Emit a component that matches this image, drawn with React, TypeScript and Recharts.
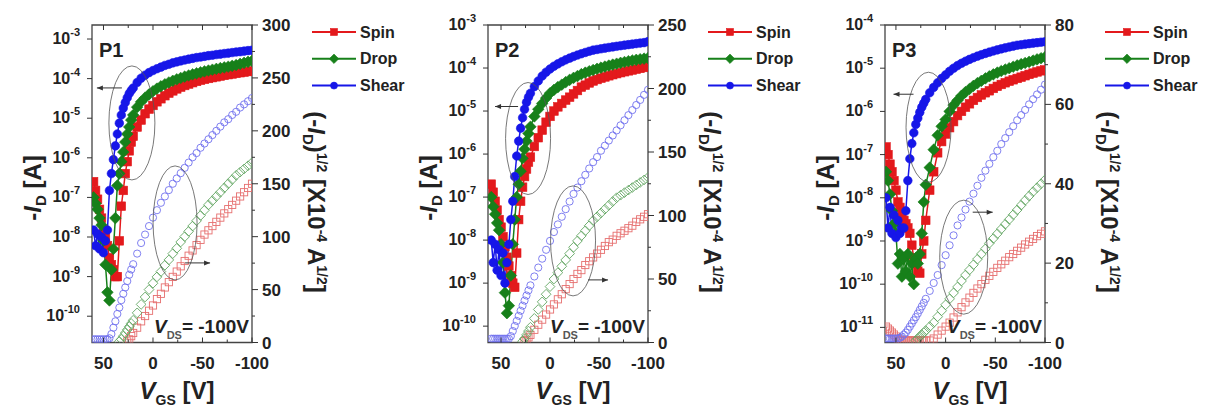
import React from "react";
import { ComposedChart, Line, XAxis, YAxis, ReferenceArea, ReferenceDot } from "recharts";

const _ = null;

// gate voltage sweep, V
const VGS = [
  60, 58, 56, 54, 52, 50, 48, 46, 44, 42, 40, 38, 36, 34, 32, 30, 28, 26, 24, 22, 20,
  16, 12, 8, 4, 0, -4, -8, -12, -16, -20, -24, -28, -32, -36, -40, -44, -48, -52, -56, -60,
  -64, -68, -72, -76, -80, -84, -88, -92, -96, -100,
];

// ---- P1 : -ID (A)
const P1_SPIN_ID = [
  2.5e-7, 1.5e-7, 9e-8, 5e-8, 3e-8, 1.5e-8, 1e-8, 6e-9, 3e-9, 2e-9, 1.5e-9, 1e-9, 1e-9, 8e-9, 6e-8, 1.5e-7, 4e-7, 8e-7, 1.5e-6, 2.5e-6, 3.5e-6,
  6e-6, 9e-6, 1.3e-5, 1.7e-5, 2.1e-5, 2.6e-5, 3.1e-5, 3.7e-5, 4.3e-5, 4.9e-5, 5.5e-5, 6.1e-5, 6.7e-5, 7.3e-5, 7.9e-5,
  8.5e-5, 9.1e-5, 9.6e-5, 1.01e-4, 1.06e-4, 1.11e-4, 1.16e-4, 1.21e-4, 1.26e-4, 1.31e-4, 1.36e-4, 1.41e-4, 1.46e-4, 1.51e-4, 1.56e-4,
];
const P1_DROP_ID = [
  1e-7, 7e-8, 5e-8, 3e-8, 2e-8, 8e-9, 2e-9, 4e-10, 2.5e-10, 1.5e-9, 5e-9, 3e-8, 2e-7, 4e-7, 8e-7, 1.4e-6, 2.5e-6, 4e-6, 6e-6, 9e-6, 1.2e-5,
  1.9e-5, 2.6e-5, 3.3e-5, 4e-5, 4.8e-5, 5.6e-5, 6.4e-5, 7.2e-5, 8e-5, 8.8e-5, 9.6e-5, 1.04e-4, 1.12e-4, 1.2e-4, 1.28e-4,
  1.36e-4, 1.44e-4, 1.52e-4, 1.6e-4, 1.68e-4, 1.76e-4, 1.84e-4, 1.92e-4, 2e-4, 2.1e-4, 2.2e-4, 2.35e-4, 2.5e-4, 2.65e-4, 2.8e-4,
];
const P1_SHEAR_ID = [
  1.5e-8, 6e-9, 1.2e-8, 5e-9, 1e-8, 4e-9, 8e-9, 1.5e-8, 1.5e-7, 4e-7, 9e-7, 2e-6, 4e-6, 7.5e-6, 1.2e-5, 1.8e-5, 2.5e-5, 3.3e-5, 4.2e-5, 5e-5, 5.8e-5,
  8e-5, 1.02e-4, 1.22e-4, 1.42e-4, 1.6e-4, 1.78e-4, 1.95e-4, 2.15e-4, 2.3e-4, 2.5e-4, 2.65e-4, 2.8e-4, 2.95e-4, 3.1e-4, 3.25e-4,
  3.4e-4, 3.5e-4, 3.65e-4, 3.8e-4, 3.9e-4, 4.05e-4, 4.15e-4, 4.3e-4, 4.4e-4, 4.55e-4, 4.7e-4, 4.8e-4, 4.95e-4, 5.1e-4, 5.2e-4,
];
// ---- P1 : (-ID)^1/2 (x1e-4 A^1/2)
const P1_SPIN_SQ = [
  _, _, _, _, _, _, _, _, _, _, _, _, _, _, _, _, _, 1, 3, 6, 9,
  14, 20, 25, 30, 35, 41, 46, 52, 57, 62, 67, 72, 77, 82, 87,
  92, 97, 102, 106, 110, 114, 118, 122, 126, 130, 134, 138, 142, 146, 150,
];
const P1_DROP_SQ = [
  _, _, _, _, _, _, _, _, _, _, _, _, _, 1, 3, 6, 9, 12, 15, 18, 21,
  28, 36, 43, 50, 56, 62, 67, 73, 78, 84, 89, 95, 100, 105, 110,
  115, 120, 125, 130, 134, 138, 142, 146, 150, 154, 158, 161, 164, 167, 170,
];
const P1_SHEAR_SQ = [
  3, 3, 3, 3, 3, 3, 3, 3, 4, 8, 14, 20, 27, 33, 40, 46, 52, 58, 64, 69, 74,
  84, 94, 102, 110, 118, 125, 132, 138, 144, 150, 155, 160, 165, 170, 175,
  179, 184, 188, 192, 196, 200, 204, 208, 211, 215, 218, 222, 225, 228, 231,
];

// ---- P2 : -ID (A)
const P2_SPIN_ID = [
  2e-7, 1.3e-7, 8e-8, 5e-8, 3e-8, 2e-8, 1.2e-8, 7e-9, 4e-9, 2.5e-9, 1.5e-9, 1e-9, 8e-10, 5e-9, 3e-8, 8e-8, 1.7e-7, 3e-7, 4.5e-7, 6.5e-7, 8.5e-7,
  1.5e-6, 2.4e-6, 3.6e-6, 5.5e-6, 7.5e-6, 1e-5, 1.25e-5, 1.5e-5, 1.8e-5, 2.1e-5, 2.5e-5, 3e-5, 3.6e-5, 4e-5, 4.5e-5,
  5e-5, 5.4e-5, 5.8e-5, 6.2e-5, 6.6e-5, 7e-5, 7.4e-5, 7.8e-5, 8.2e-5, 8.6e-5, 9e-5, 9.4e-5, 9.8e-5, 1.03e-4, 1.07e-4,
];
const P2_DROP_ID = [
  1e-7, 6e-8, 4e-8, 2.5e-8, 1.7e-8, 8e-9, 3e-9, 6e-10, 2e-10, 3e-10, 1.5e-9, 8e-9, 3e-8, 1e-7, 2e-7, 4e-7, 8e-7, 1.3e-6, 2e-6, 3e-6, 4.3e-6,
  7.5e-6, 1.1e-5, 1.5e-5, 2e-5, 2.6e-5, 3.1e-5, 3.6e-5, 4.1e-5, 4.7e-5, 5.3e-5, 5.9e-5, 6.5e-5, 7.2e-5, 7.8e-5, 8.4e-5,
  9e-5, 9.6e-5, 1.02e-4, 1.08e-4, 1.14e-4, 1.2e-4, 1.26e-4, 1.32e-4, 1.38e-4, 1.44e-4, 1.5e-4, 1.55e-4, 1.6e-4, 1.65e-4, 1.7e-4,
];
const P2_SHEAR_ID = [
  1e-8, 3e-9, 8e-9, 2e-9, 6e-9, 1.5e-9, 5e-9, 1e-9, 3e-9, 8e-9, 3e-8, 8e-8, 3e-7, 9e-7, 2e-6, 4e-6, 7e-6, 1.1e-5, 1.6e-5, 2.1e-5, 2.6e-5,
  3.7e-5, 5e-5, 6.5e-5, 8e-5, 9.5e-5, 1.1e-4, 1.25e-4, 1.4e-4, 1.55e-4, 1.7e-4, 1.85e-4, 2e-4, 2.15e-4, 2.3e-4, 2.45e-4,
  2.6e-4, 2.7e-4, 2.8e-4, 2.9e-4, 3e-4, 3.1e-4, 3.2e-4, 3.3e-4, 3.4e-4, 3.5e-4, 3.6e-4, 3.7e-4, 3.8e-4, 3.9e-4, 4.1e-4,
];
// ---- P2 : (-ID)^1/2
const P2_SPIN_SQ = [
  _, _, _, _, _, _, _, _, _, _, _, _, _, _, _, _, _, 1, 2, 4, 6,
  10, 14, 18, 22, 26, 30, 34, 38, 42, 46, 50, 54, 57, 61, 64,
  67, 70, 73, 76, 79, 81, 84, 86, 88, 90, 92, 95, 97, 99, 101,
];
const P2_DROP_SQ = [
  _, _, _, _, _, _, _, _, _, _, _, _, _, _, _, _, 1, 3, 6, 9, 12,
  19, 26, 32, 38, 44, 50, 55, 60, 65, 70, 75, 80, 84, 88, 92,
  96, 99, 102, 105, 108, 111, 114, 116, 118, 120, 122, 124, 126, 128, 130,
];
const P2_SHEAR_SQ = [
  3, 3, 3, 3, 3, 3, 3, 3, 3, 3, 5, 9, 13, 17, 21, 25, 29, 33, 37, 41, 45,
  52, 59, 66, 73, 80, 87, 93, 99, 105, 111, 117, 122, 127, 132, 137,
  142, 146, 151, 155, 159, 163, 167, 171, 175, 179, 183, 187, 191, 195, 199,
];

// ---- P3 : -ID (A)
const P3_SPIN_ID = [
  1.5e-7, 1e-7, 6e-8, 4e-8, 2.5e-8, 1.5e-8, 8e-9, 6e-9, 4e-9, 3e-9, 2.5e-9, 2e-9, 1.5e-9, 8e-10, 4e-10, 3e-10, 2e-10, 1.8e-10, 5e-10, 1e-9, 3e-9,
  1.5e-8, 4e-8, 1.1e-7, 2e-7, 3e-7, 4.2e-7, 5.8e-7, 8e-7, 1e-6, 1.25e-6, 1.5e-6, 1.8e-6, 2.1e-6, 2.4e-6, 2.7e-6,
  3e-6, 3.4e-6, 3.8e-6, 4.2e-6, 4.6e-6, 5e-6, 5.4e-6, 5.8e-6, 6.2e-6, 6.7e-6, 7.2e-6, 7.7e-6, 8.2e-6, 8.7e-6, 9.1e-6,
];
const P3_DROP_ID = [
  4e-8, 2.5e-8, 1.2e-8, 5e-9, 2.5e-9, 1.5e-9, 3e-10, 5e-10, 1.5e-10, 4e-10, 2e-10, 5e-10, 1.5e-10, 3e-10, 1e-10, 4e-10, 3e-10, 5e-10, 1.5e-9, 8e-9, 2e-8,
  5e-8, 1.3e-7, 2.8e-7, 4.5e-7, 6.5e-7, 1e-6, 1.4e-6, 1.8e-6, 2.3e-6, 2.8e-6, 3.3e-6, 3.9e-6, 4.5e-6, 5.1e-6, 5.8e-6,
  6.5e-6, 7.2e-6, 7.9e-6, 8.6e-6, 9.3e-6, 1e-5, 1.08e-5, 1.16e-5, 1.24e-5, 1.32e-5, 1.4e-5, 1.5e-5, 1.6e-5, 1.7e-5, 1.8e-5,
];
const P3_SHEAR_ID = [
  1e-8, 2e-9, 6e-9, 1.5e-9, 4e-9, 1.2e-9, 3e-9, 1.5e-9, 2e-9, 2e-9, 5e-9, 2.5e-8, 8e-8, 1.8e-7, 3.2e-7, 5e-7, 7e-7, 9.5e-7, 1.25e-6, 1.55e-6, 1.9e-6,
  2.7e-6, 3.6e-6, 4.6e-6, 5.8e-6, 7e-6, 8.5e-6, 1e-5, 1.15e-5, 1.3e-5, 1.45e-5, 1.6e-5, 1.75e-5, 1.9e-5, 2.05e-5, 2.2e-5,
  2.35e-5, 2.5e-5, 2.65e-5, 2.8e-5, 2.95e-5, 3.1e-5, 3.25e-5, 3.4e-5, 3.5e-5, 3.6e-5, 3.7e-5, 3.8e-5, 3.9e-5, 4e-5, 4.1e-5,
];
// ---- P3 : (-ID)^1/2
const P3_SPIN_SQ = [
  4, 3.5, 3, 2.5, 2, 1.5, 1, 0.5, 0.5, 0.5, 0.5, 0.5, 0.5, 0.5, 0.5, 0.5, 0.5, 0.5, 0.5, 0.5, 0.5,
  0.5, 1, 2, 3, 4, 5, 6.3, 7.6, 8.9, 10.1, 11.3, 12.5, 13.6, 14.7, 15.8,
  16.8, 17.8, 18.8, 19.7, 20.6, 21.5, 22.3, 23.1, 23.9, 24.7, 25.4, 26.1, 26.8, 27.4, 28,
];
const P3_DROP_SQ = [
  _, _, _, _, _, _, _, _, _, _, _, _, _, _, _, 0.5, 1, 1.5, 2, 2.5, 3,
  4, 5, 6.5, 8, 9.5, 11, 12.5, 14, 15.5, 17, 18.3, 19.6, 21, 22.3, 23.6,
  25, 26.2, 27.4, 28.6, 29.8, 31, 32.2, 33.4, 34.6, 35.8, 36.9, 38, 39, 40, 41,
];
const P3_SHEAR_SQ = [
  1, 1, 1, 1, 1, 1, 1, 1.2, 1.5, 2, 2.5, 3.2, 4, 4.8, 5.6, 6.4, 7.3, 8.2, 9.1, 10, 11,
  13, 15, 17, 19.5, 22, 24.5, 27, 29.5, 31.5, 33.5, 35.5, 37.5, 39.5, 41.5, 43.3,
  45, 46.7, 48.3, 50, 51.5, 53, 54.5, 56, 57.3, 58.6, 60, 61.3, 62.5, 63.7, 65,
];

const LEGEND = ["Spin", "Drop", "Shear"];
const COLORS = ["#e3191c", "#17801a", "#1616e8"];
const LIGHT = ["#e66f6f", "#62a662", "#7272ee"];
const SHAPES = ["square", "diamond", "circle"];

const FONT = "'Liberation Sans', Arial, Helvetica, sans-serif";
const INK = "#222";
const PLOT_TOP = 25;
const PLOT_H = 317.5;

const PANELS = [
  {
    label: "P1", ox: 0, xMax: 61.6, logLo: -10.664, logHi: -2.646, decades: [-10, -9, -8, -7, -6, -5, -4, -3],
    sqMax: 300, sqStep: 25, sqMajor: 50,
    id: [P1_SPIN_ID, P1_DROP_ID, P1_SHEAR_ID], sq: [P1_SPIN_SQ, P1_DROP_SQ, P1_SHEAR_SQ],
    notes: [
      { axis: "log", x: 21.3, y: 7.6e-6, rx: 23, ry: 57, a1: -10, a2: -35, ay: -35 },
      { axis: "sq", x: -22.3, y: 113, rx: 22, ry: 57, a1: 10, a2: 35, ay: 40 },
    ],
  },
  {
    label: "P2", ox: 396, xMax: 63.3, logLo: -10.38, logHi: -3, decades: [-10, -9, -8, -7, -6, -5, -4, -3],
    sqMax: 250, sqStep: 25, sqMajor: 50,
    id: [P2_SPIN_ID, P2_DROP_ID, P2_SHEAR_ID], sq: [P2_SPIN_SQ, P2_DROP_SQ, P2_SHEAR_SQ],
    notes: [
      { axis: "log", x: 22.4, y: 2.3e-6, rx: 22.5, ry: 56, a1: -10, a2: -33, ay: -32 },
      { axis: "sq", x: -23.5, y: 80, rx: 22.5, ry: 55, a1: 15, a2: 35, ay: 39 },
    ],
  },
  {
    label: "P3", ox: 793, xMax: 61, logLo: -11.35, logHi: -4, decades: [-11, -10, -9, -8, -7, -6, -5, -4],
    sqMax: 80, sqStep: 10, sqMajor: 20,
    id: [P3_SPIN_ID, P3_DROP_ID, P3_SHEAR_ID], sq: [P3_SPIN_SQ, P3_DROP_SQ, P3_SHEAR_SQ],
    notes: [
      { axis: "log", x: 17.2, y: 4.3e-7, rx: 22.5, ry: 55, a1: -15, a2: -35, ay: -33 },
      { axis: "sq", x: -18.2, y: 21.5, rx: 24, ry: 57, a1: 9, a2: 29, ay: -45 },
    ],
  },
];

function Marker({ shape, cx, cy, size, fill, stroke, sw }: any) {
  if (shape === "square")
    return <rect x={cx - size} y={cy - size} width={size * 2} height={size * 2} fill={fill} stroke={stroke} strokeWidth={sw} />;
  if (shape === "diamond") {
    const d = size * 1.35;
    return <path d={`M${cx},${cy - d}L${cx + d},${cy}L${cx},${cy + d}L${cx - d},${cy}Z`} fill={fill} stroke={stroke} strokeWidth={sw} />;
  }
  return <circle cx={cx} cy={cy} r={size} fill={fill} stroke={stroke} strokeWidth={sw} />;
}

const dotFn = (shape: string, color: string, filled: boolean) => (p: any) => {
  const { cx, cy, index } = p;
  if (cx == null || cy == null || !isFinite(cy) || p.value == null) return <g key={`d${index}`} />;
  return filled ? (
    <Marker key={`d${index}`} shape={shape} cx={cx} cy={cy} size={4.3} fill={color} stroke={color} sw={0.6} />
  ) : (
    <Marker key={`d${index}`} shape={shape} cx={cx} cy={cy} size={3.6} fill="none" stroke={color} sw={0.9} />
  );
};

const XTick = (p: any) => {
  const { x, y, payload } = p;
  const v = payload.value;
  const major = v % 50 === 0;
  const len = major ? 5 : 3;
  return (
    <g>
      <line x1={x} x2={x} y1={y} y2={y - len} stroke="#333" strokeWidth={1} />
      <line x1={x} x2={x} y1={y - PLOT_H} y2={y - PLOT_H + len} stroke="#333" strokeWidth={1} />
      {major && (
        <text x={x} y={y + 26} textAnchor="middle" fontSize={17} fontWeight="bold" fontFamily={FONT} fill={INK}>
          {v}
        </text>
      )}
    </g>
  );
};

const LogTick = (p: any) => {
  const { x, y, payload } = p;
  const e = Math.round(Math.log10(payload.value));
  return (
    <g>
      <line x1={x - 5} x2={x} y1={y} y2={y} stroke="#333" strokeWidth={1} />
      <text x={x - 12} y={y + 5} textAnchor="end" fontSize={16} fontWeight="bold" fontFamily={FONT} fill={INK}>
        10<tspan fontSize={11} dy={-8}>{e}</tspan>
      </text>
    </g>
  );
};

const makeSqTick = (major: number) => (p: any) => {
  const { x, y, payload } = p;
  const isMajor = payload.value % major === 0;
  return (
    <g>
      <line x1={x} x2={x + (isMajor ? 6 : 3)} y1={y} y2={y} stroke="#333" strokeWidth={1} />
      {isMajor && (
        <text x={x + 10} y={y + 6} textAnchor="start" fontSize={17} fontWeight="bold" fontFamily={FONT} fill={INK}>
          {payload.value}
        </text>
      )}
    </g>
  );
};

const noteShape = (n: any) => (p: any) => {
  const { cx, cy } = p;
  if (cx == null || cy == null) return <g />;
  const dir = Math.sign(n.a2 - n.a1);
  const tx = cx + n.a2;
  const ty = cy + n.ay;
  return (
    <g>
      <ellipse cx={cx} cy={cy} rx={n.rx} ry={n.ry} fill="none" stroke="#555" strokeWidth={0.8} />
      <line x1={cx + n.a1} x2={tx} y1={ty} y2={ty} stroke="#333" strokeWidth={1} />
      <path d={`M${tx},${ty}l${-dir * 6},-2.5l0,5z`} fill="#333" />
    </g>
  );
};

function Panel({ cfg }: any) {
  const rows = VGS.map((v, i) => ({
    v,
    id0: cfg.id[0][i] ?? null,
    id1: cfg.id[1][i] ?? null,
    id2: cfg.id[2][i] ?? null,
    sq0: cfg.sq[0][i] ?? null,
    sq1: cfg.sq[1][i] ?? null,
    sq2: cfg.sq[2][i] ?? null,
  }));
  const lo = Math.pow(10, cfg.logLo);
  const hi = Math.pow(10, cfg.logHi);
  const logTicks = cfg.decades.map((d: number) => Math.pow(10, d));
  const sqTicks: number[] = [];
  for (let t = 0; t <= cfg.sqMax; t += cfg.sqStep) sqTicks.push(t);

  return (
    <div style={{ position: "absolute", left: cfg.ox, top: 0 }}>
      <ComposedChart width={400} height={410} data={rows} margin={{ top: PLOT_TOP, right: 98, bottom: 37.5, left: 32 }}>
        <XAxis
          dataKey="v" type="number" domain={[-100, cfg.xMax]} reversed allowDataOverflow
          ticks={[-100, -75, -50, -25, 0, 25, 50]} interval={0}
          tickSize={0} tickMargin={0} axisLine={false} tickLine={false} tick={XTick} height={30}
        />
        <YAxis
          yAxisId="log" scale="log" type="number" domain={[lo, hi]} allowDataOverflow
          ticks={logTicks} interval={0} tickSize={0} tickMargin={0}
          axisLine={false} tickLine={false} tick={LogTick} width={60}
        />
        <YAxis
          yAxisId="sq" orientation="right" type="number" domain={[0, cfg.sqMax]} allowDataOverflow
          ticks={sqTicks} interval={0} tickSize={0} tickMargin={0}
          axisLine={false} tickLine={false} tick={makeSqTick(cfg.sqMajor)} width={50}
        />
        <ReferenceArea
          yAxisId="log" x1={-100} x2={cfg.xMax} y1={lo} y2={hi}
          fill="none" stroke="#444" strokeWidth={1.3} ifOverflow="visible"
        />
        {[0, 1, 2].map((k) => (
          <Line
            key={`sq${k}`} yAxisId="sq" dataKey={`sq${k}`} stroke="none" strokeWidth={0}
            dot={dotFn(SHAPES[k], LIGHT[k], false)} activeDot={false} isAnimationActive={false}
          />
        ))}
        {[0, 1, 2].map((k) => (
          <Line
            key={`id${k}`} yAxisId="log" dataKey={`id${k}`} stroke={COLORS[k]} strokeWidth={1.5}
            dot={dotFn(SHAPES[k], COLORS[k], true)} activeDot={false} isAnimationActive={false}
          />
        ))}
        {cfg.notes.map((n: any, i: number) => (
          <ReferenceDot
            key={`n${i}`} yAxisId={n.axis} x={n.x} y={n.y} r={0}
            ifOverflow="visible" shape={noteShape(n)}
          />
        ))}
      </ComposedChart>
    </div>
  );
}

function Labels() {
  const t = { fontFamily: FONT, fontWeight: "bold" as const, fill: INK };
  return (
    <svg width={1208} height={410} style={{ position: "absolute", left: 0, top: 0, pointerEvents: "none" }}>
      {PANELS.map((p) => (
        <g key={p.label}>
          <text x={p.ox + 99} y={57} fontSize={20} {...t}>{p.label}</text>
          <text x={p.ox + 249} y={333} fontSize={19} textAnchor="end" {...t}>
            <tspan fontStyle="italic">V</tspan>
            <tspan fontSize={11} dy={6} fill="#555">DS</tspan>
            <tspan dy={-6}>= -100V</tspan>
          </text>
          <text transform={`translate(${p.ox + 41},188) rotate(-90)`} textAnchor="middle" fontSize={24} {...t}>
            -<tspan fontStyle="italic">I</tspan>
            <tspan fontSize={15} dy={5}>D</tspan>
            <tspan dy={-5}> [A]</tspan>
          </text>
          <text transform={`translate(${p.ox + 308},202) rotate(90)`} textAnchor="middle" fontSize={24} {...t}>
            (-<tspan fontStyle="italic">I</tspan>
            <tspan fontSize={15} dy={5}>D</tspan>
            <tspan dy={-5}>)</tspan>
            <tspan fontSize={14} dy={-9}>1/2</tspan>
            <tspan dy={9}> [X10</tspan>
            <tspan fontSize={14} dy={-9}>-4</tspan>
            <tspan dy={9}> A</tspan>
            <tspan fontSize={14} dy={-9}>1/2</tspan>
            <tspan dy={9}>]</tspan>
          </text>
          <text x={p.ox + 177} y={399} textAnchor="middle" fontSize={24} {...t}>
            <tspan fontStyle="italic">V</tspan>
            <tspan fontSize={14} dy={6}>GS</tspan>
            <tspan dy={-6}> [V]</tspan>
          </text>
          {LEGEND.map((name, k) => {
            const y = 32 + k * 26.8;
            return (
              <g key={name}>
                <line x1={p.ox + 312} x2={p.ox + 356} y1={y} y2={y} stroke={COLORS[k]} strokeWidth={2} />
                <Marker shape={SHAPES[k]} cx={p.ox + 334} cy={y} size={3.5} fill={COLORS[k]} stroke={COLORS[k]} sw={0.6} />
                <text x={p.ox + 360} y={y + 5.5} fontSize={16} {...t}>{name}</text>
              </g>
            );
          })}
        </g>
      ))}
    </svg>
  );
}

export default function App() {
  return (
    <div style={{ position: "absolute", left: 0, top: 0, width: 1208, height: 410, background: "#fff" }}>
      {PANELS.map((p) => (
        <Panel key={p.label} cfg={p} />
      ))}
      <Labels />
    </div>
  );
}
